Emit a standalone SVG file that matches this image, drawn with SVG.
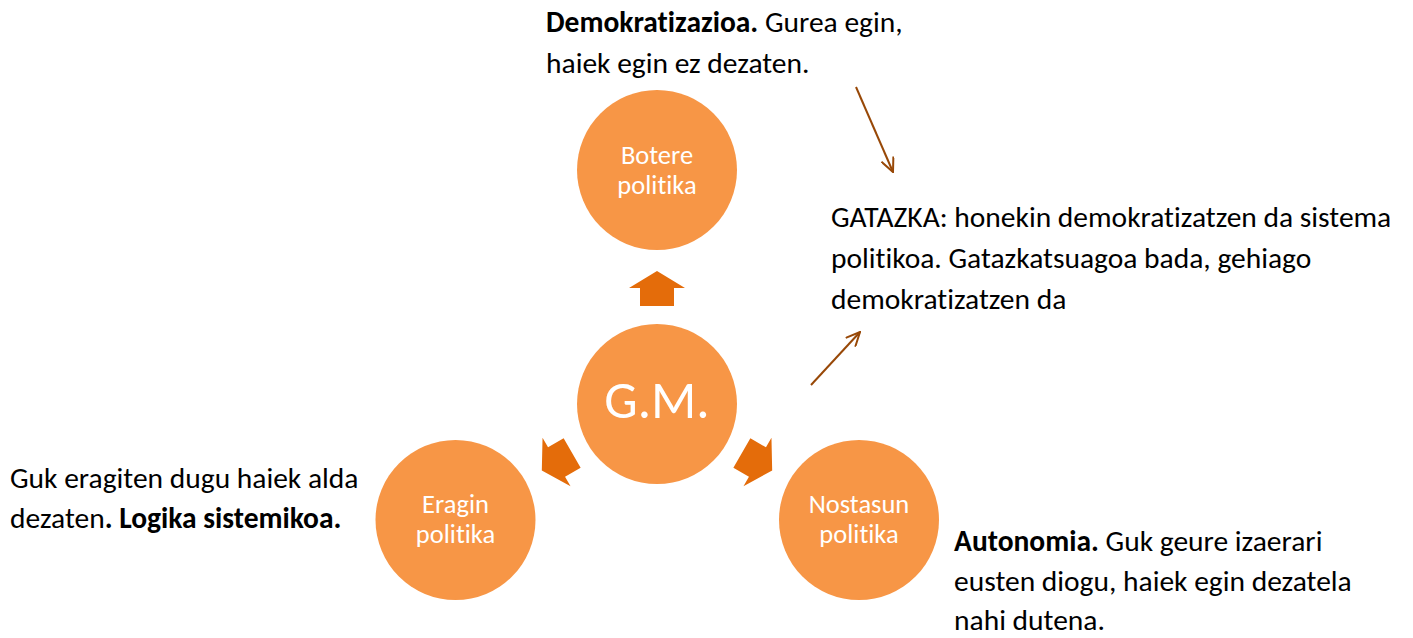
<svg xmlns="http://www.w3.org/2000/svg" width="1413" height="638" viewBox="0 0 1413 638">
<style>
.bg{fill:#FFFFFF}
.circ{fill:#F79646}
.blk{fill:#E46C0A}
text{font-variant-ligatures:none;font-feature-settings:"liga" 0,"clig" 0}
.lab{font-family:Carlito,"Open Sans",sans-serif;font-size:26.5px;fill:#FFFFFF;text-anchor:middle}
.gm{font-family:Carlito,"Open Sans",sans-serif;font-size:53px;fill:#FFFFFF;text-anchor:middle}
.txt{font-family:Carlito,"Open Sans",sans-serif;font-size:29.5px;fill:#000000}
.b{font-weight:bold}
.con{stroke:#984807;stroke-width:2;fill:none}
</style>
<defs>
<marker id="open" viewBox="0 0 16 14" refX="15" refY="7" markerWidth="16" markerHeight="14" markerUnits="userSpaceOnUse" orient="auto">
<path d="M1,0.5 L15,7 L1,13.5" fill="none" stroke="#984807" stroke-width="2"/>
</marker>
</defs>
<rect class="bg" x="0" y="0" width="1413" height="638"/>
<g id="connectors">
<polygon id="arrow-up" class="blk" points="657,271 685,288 674,288 674,306 640,306 640,288 629,288"/>
<polygon id="arrow-right" class="blk" points="657,271 685,288 674,288 674,306 640,306 640,288 629,288" transform="rotate(120 657 404)"/>
<polygon id="arrow-left" class="blk" points="657,271 685,288 674,288 674,306 640,306 640,288 629,288" transform="rotate(-120 657 404)"/>
<line class="con" x1="856" y1="87" x2="893" y2="172" marker-end="url(#open)"/>
<line class="con" x1="811" y1="385" x2="860" y2="332" marker-end="url(#open)"/>
</g>
<g id="node-gm">
<circle class="circ" cx="657" cy="404" r="80"/>
<text class="gm" x="657" y="418">G.M.</text>
</g>
<g id="node-botere">
<circle class="circ" cx="657" cy="170" r="80"/>
<text class="lab" x="657" y="164">Botere</text>
<text class="lab" x="657" y="193.5">politika</text>
</g>
<g id="node-eragin">
<circle class="circ" cx="455.5" cy="520" r="80"/>
<text class="lab" x="455.5" y="513">Eragin</text>
<text class="lab" x="455.5" y="542.5">politika</text>
</g>
<g id="node-nostasun">
<circle class="circ" cx="859" cy="520" r="80"/>
<text class="lab" x="859" y="513">Nostasun</text>
<text class="lab" x="859" y="542.5">politika</text>
</g>
<g id="text-demokratizazioa">
<text class="txt" x="546" y="32"><tspan class="b">Demokratizazioa.</tspan> Gurea egin,</text>
<text class="txt" x="546" y="73">haiek egin ez dezaten.</text>
</g>
<g id="text-gatazka">
<text class="txt" x="831" y="227">GATAZKA: honekin demokratizatzen da sistema</text>
<text class="txt" x="831" y="268">politikoa. Gatazkatsuagoa bada, gehiago</text>
<text class="txt" x="831" y="309">demokratizatzen da</text>
</g>
<g id="text-logika">
<text class="txt" x="10" y="488">Guk eragiten dugu haiek alda</text>
<text class="txt" x="10" y="528">dezaten<tspan class="b">. Logika sistemikoa.</tspan></text>
</g>
<g id="text-autonomia">
<text class="txt" x="954" y="551"><tspan class="b">Autonomia.</tspan> Guk geure izaerari</text>
<text class="txt" x="954" y="591">eusten diogu, haiek egin dezatela</text>
<text class="txt" x="954" y="630">nahi dutena.</text>
</g>
</svg>
